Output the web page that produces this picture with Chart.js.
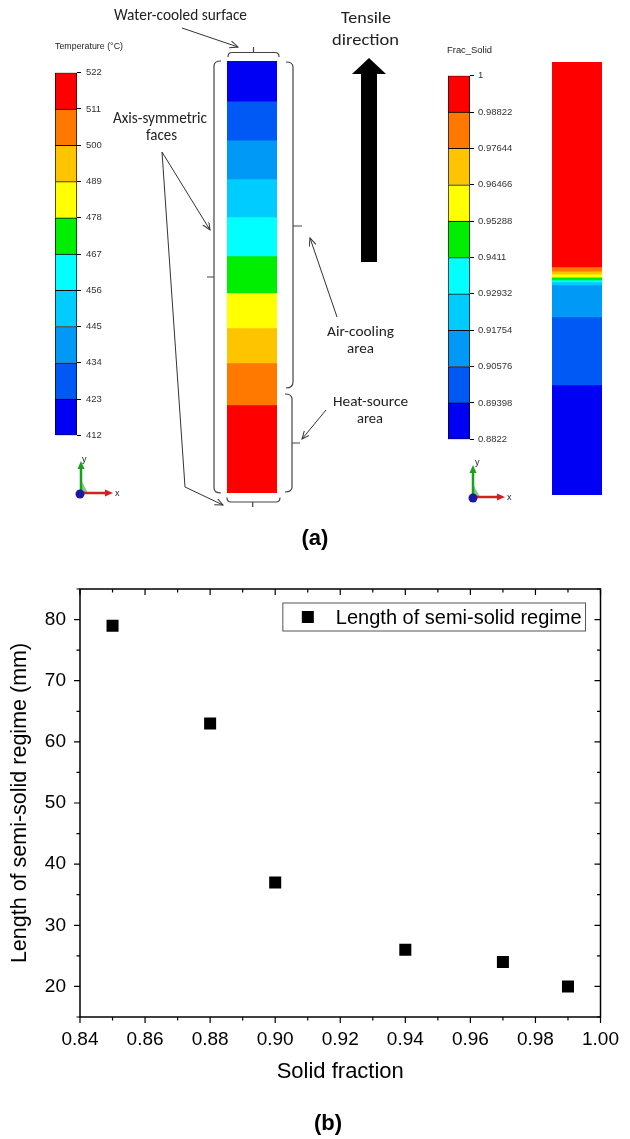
<!DOCTYPE html>
<html>
<head>
<meta charset="utf-8">
<title>Semi-solid regime</title>
<script src="https://cdn.jsdelivr.net/npm/chart.js@4.4.1/dist/chart.umd.min.js"></script>
<style>
  html, body { margin: 0; padding: 0; background: #fff; }
  #page { position: relative; width: 630px; height: 1139px; overflow: hidden; background: #fff; }
  #page canvas, #page svg { position: absolute; }
  .note { font-family: Carlito, Lato, "Open Sans", sans-serif; fill: #222; }
  .small { font-family: "Liberation Sans", Arial, sans-serif; fill: #222; }
</style>
</head>
<body>
<div id="page">
  <canvas id="tempBar" width="67" height="384" style="left:55px;top:62px"></canvas>
  <canvas id="tempSpecimen" width="50" height="432" style="left:227px;top:61px"></canvas>
  <canvas id="fracBar" width="77" height="383" style="left:448px;top:66px"></canvas>
  <canvas id="fracSpecimen" width="50" height="433" style="left:552px;top:62px"></canvas>
  <canvas id="scatter" width="630" height="540" style="left:0;top:560px"></canvas>

  <svg width="630" height="1139" viewBox="0 0 630 1139" style="left:0;top:0">
    <defs>
      <marker id="ah" markerWidth="10" markerHeight="8" refX="8" refY="3.5" orient="auto" markerUnits="userSpaceOnUse">
        <path d="M0,0 L8,3.5 L0,7" fill="none" stroke="#333" stroke-width="1"/>
      </marker>
    </defs>

    <!-- braces round the temperature specimen -->
    <g fill="none" stroke="#444" stroke-width="1.2">
      <path d="M228 57 Q228 52.5 232 52.5 H275 Q279 52.5 279 57 M253.5 52.5 V47"/>
      <path d="M227 497.5 Q227 502 231 502 H276 Q280 502 280 497.5 M252.7 502 V507"/>
      <path d="M221 61 Q214 61 214 66 V488 Q214 493 221 493 M214 277 H207"/>
      <path d="M286 62 Q293 62 293 67 V382 Q293 388 286 388 M293 226 H302"/>
      <path d="M285 394 Q292 394 292 399 V487 Q292 492 285 492 M292 443 H300"/>
    </g>

    <!-- pointer arrows -->
    <g fill="none" stroke="#333" stroke-width="1" marker-end="url(#ah)">
      <path d="M182 28 L238 47"/>
      <path d="M162 152 L210 230"/>
      <path d="M162 152 L185 487 L223 505"/>
      <path d="M337 317 L310 238"/>
      <path d="M326 410 L302 439"/>
    </g>

    <!-- tensile direction arrow -->
    <polygon points="369,58 386,74 377,74 377,262 361,262 361,74 352,74" fill="#000"/>

    <!-- coordinate triads -->
    <g>
      <polygon points="81,493 81,480 88,493" fill="#7fd07f"/>
      <line x1="81" y1="493" x2="81" y2="467" stroke="#1aa01a" stroke-width="2.5"/>
      <polygon points="77.5,469 81,461 84.5,469" fill="#1aa01a"/>
      <line x1="81" y1="493" x2="106" y2="493" stroke="#d02020" stroke-width="2.5"/>
      <polygon points="105,489.5 113,493 105,496.5" fill="#d02020"/>
      <circle cx="80" cy="494" r="4.5" fill="#1a1aa0"/>
      <text class="small" x="82" y="462" font-size="9">y</text>
      <text class="small" x="115" y="496" font-size="9">x</text>

      <polygon points="473,497 473,484 480,497" fill="#7fd07f"/>
      <line x1="473" y1="497" x2="473" y2="471" stroke="#1aa01a" stroke-width="2.5"/>
      <polygon points="469.5,473 473,465 476.5,473" fill="#1aa01a"/>
      <line x1="473" y1="497" x2="498" y2="497" stroke="#d02020" stroke-width="2.5"/>
      <polygon points="497,493.5 505,497 497,500.5" fill="#d02020"/>
      <circle cx="473" cy="498" r="4.5" fill="#1a1aa0"/>
      <text class="small" x="475" y="465" font-size="9">y</text>
      <text class="small" x="507" y="500" font-size="9">x</text>
    </g>

    <!-- labels of panel (a) -->
    <text class="small" x="55" y="49" font-size="9.5" textLength="68" lengthAdjust="spacingAndGlyphs">Temperature (°C)</text>
    <text class="small" x="447" y="53" font-size="9.5" textLength="45" lengthAdjust="spacingAndGlyphs">Frac_Solid</text>
    <text class="note" x="114" y="20" font-size="16" textLength="133" lengthAdjust="spacingAndGlyphs">Water-cooled surface</text>
    <text class="note" x="113" y="123" font-size="16" textLength="94" lengthAdjust="spacingAndGlyphs">Axis-symmetric</text>
    <text class="note" x="146" y="140" font-size="16" textLength="31" lengthAdjust="spacingAndGlyphs">faces</text>
    <text class="note" x="341" y="23" font-size="17" textLength="50" lengthAdjust="spacingAndGlyphs">Tensile</text>
    <text class="note" x="332" y="45" font-size="17" textLength="67" lengthAdjust="spacingAndGlyphs">direction</text>
    <text class="note" x="327" y="336" font-size="15" textLength="67" lengthAdjust="spacingAndGlyphs">Air-cooling</text>
    <text class="note" x="347" y="353" font-size="15" textLength="27" lengthAdjust="spacingAndGlyphs">area</text>
    <text class="note" x="333" y="406" font-size="15" textLength="75" lengthAdjust="spacingAndGlyphs">Heat-source</text>
    <text class="note" x="357" y="423" font-size="15" textLength="26" lengthAdjust="spacingAndGlyphs">area</text>

    <text x="315" y="545" text-anchor="middle" font-family="'Liberation Sans', Arial, sans-serif" font-weight="bold" font-size="22" fill="#000">(a)</text>
    <text x="328" y="1130" text-anchor="middle" font-family="'Liberation Sans', Arial, sans-serif" font-weight="bold" font-size="22" fill="#000">(b)</text>
  </svg>
</div>

<script>
const FONT = "'Liberation Sans', Arial, sans-serif";

// contour colours, lowest level first
const levelColors = ['#0000F5', '#0058F5', '#0099F5', '#00CCFF', '#00FFFF',
                     '#00EE00', '#FFFF00', '#FFC400', '#FF7800', '#FF0000'];

// colour bar ticks
const tempTicks = [412, 423, 434, 445, 456, 467, 478, 489, 500, 511, 522];
const fracTicks = [0.8822, 0.89398, 0.90576, 0.91754, 0.92932, 0.9411,
                   0.95288, 0.96466, 0.97644, 0.98822, 1];

// specimen contour bands, % of length from the water-cooled end
const tempBandBounds = [0, 9.3, 18.3, 27.3, 36.1, 45.1, 53.7, 61.8, 69.9, 79.6, 100];
const tempBandLevels = [0, 1, 2, 3, 4, 5, 6, 7, 8, 9];
const fracBandBounds = [0, 47.3, 48.3, 49.0, 49.7, 50.3, 50.8, 51.5, 58.9, 74.6, 100];
const fracBandLevels = [9, 8, 7, 6, 5, 4, 3, 2, 1, 0];

// panel (b)
const solidFraction = [0.85, 0.88, 0.90, 0.94, 0.97, 0.99];
const semiSolidLength = [79, 63, 37, 26, 24, 20];
const xTicks = [0.84, 0.86, 0.88, 0.90, 0.92, 0.94, 0.96, 0.98, 1.00];
const yTicks = [20, 30, 40, 50, 60, 70, 80];

const quiet = { legend: { display: false }, tooltip: { enabled: false } };

function colorBar(id, ticks, axisWidth, pad) {
  const datasets = levelColors.map((c, i) => ({
    data: [[ticks[i], ticks[i + 1]]],
    backgroundColor: c,
    borderColor: '#000',
    borderWidth: { top: 1, left: 1, right: 1, bottom: i === 0 ? 1 : 0 },
    borderSkipped: false,
    barPercentage: 1,
    categoryPercentage: 1,
    grouped: false
  }));
  return new Chart(document.getElementById(id), {
    type: 'bar',
    data: { labels: [''], datasets },
    options: {
      responsive: false,
      animation: false,
      layout: { padding: { top: 8, bottom: 8, left: 0, right: 0 } },
      plugins: quiet,
      scales: {
        x: { display: false },
        y: {
          position: 'right',
          min: ticks[0],
          max: ticks[ticks.length - 1],
          afterBuildTicks: s => { s.ticks = ticks.map(v => ({ value: v })); },
          afterFit: s => { s.width = axisWidth; },
          grid: { drawOnChartArea: false, drawTicks: true, tickLength: 4, color: '#000' },
          border: { display: false },
          ticks: {
            color: '#333', padding: pad, autoSkip: false,
            font: { family: FONT, size: 9.5 },
            callback: v => String(v)
          }
        }
      }
    }
  });
}

function specimen(id, bounds, levels) {
  const datasets = levels.map((lv, i) => ({
    data: [[bounds[i], bounds[i + 1]]],
    backgroundColor: levelColors[lv],
    borderWidth: 0,
    barPercentage: 1,
    categoryPercentage: 1,
    grouped: false
  }));
  return new Chart(document.getElementById(id), {
    type: 'bar',
    data: { labels: [''], datasets },
    options: {
      responsive: false,
      animation: false,
      layout: { padding: 0 },
      plugins: quiet,
      scales: {
        x: { display: false },
        y: { display: false, reverse: true, min: 0, max: 100 }
      }
    }
  });
}

colorBar('tempBar', tempTicks, 45, 5);
specimen('tempSpecimen', tempBandBounds, tempBandLevels);
colorBar('fracBar', fracTicks, 55, 4);
specimen('fracSpecimen', fracBandBounds, fracBandLevels);

// Origin-style frame: ticks on all four sides, legend box inside the plot
const frameTicks = {
  id: 'frameTicks',
  afterDraw(chart) {
    const { ctx, chartArea: a, scales: { x, y } } = chart;
    const xMinor = xTicks.slice(0, -1).map((v, i) => (v + xTicks[i + 1]) / 2);
    const yMinor = [15].concat(yTicks.map(v => v + 5));
    ctx.save();
    ctx.strokeStyle = '#000';
    ctx.lineWidth = 1.5;
    ctx.strokeRect(a.left, a.top, a.right - a.left, a.bottom - a.top);

    ctx.lineWidth = 1.2;
    ctx.beginPath();
    const xMark = (v, len) => {
      const px = x.getPixelForValue(v);
      ctx.moveTo(px, a.bottom); ctx.lineTo(px, a.bottom + len);
      ctx.moveTo(px, a.top); ctx.lineTo(px, a.top + len);
    };
    const yMark = (v, len) => {
      const py = y.getPixelForValue(v);
      ctx.moveTo(a.left, py); ctx.lineTo(a.left - len, py);
      ctx.moveTo(a.right, py); ctx.lineTo(a.right - len, py);
    };
    xTicks.forEach(v => xMark(v, 6));
    xMinor.forEach(v => xMark(v, 3.5));
    yTicks.forEach(v => yMark(v, 6));
    yMinor.forEach(v => yMark(v, 3.5));
    ctx.stroke();

    // legend
    const label = chart.data.datasets[0].label;
    ctx.font = '20px ' + FONT;
    const tw = ctx.measureText(label).width;
    const bw = 53 + tw + 4, bh = 28;
    const bx = a.right - 15 - bw, by = a.top + 14;
    ctx.fillStyle = '#fff';
    ctx.fillRect(bx, by, bw, bh);
    ctx.strokeStyle = '#555';
    ctx.lineWidth = 1;
    ctx.strokeRect(bx, by, bw, bh);
    ctx.fillStyle = '#000';
    ctx.fillRect(bx + 19, by + bh / 2 - 6, 12, 12);
    ctx.textBaseline = 'middle';
    ctx.textAlign = 'left';
    ctx.fillText(label, bx + 53, by + bh / 2 + 1);
    ctx.restore();
  }
};

new Chart(document.getElementById('scatter'), {
  type: 'scatter',
  data: {
    datasets: [{
      label: 'Length of semi-solid regime',
      data: solidFraction.map((v, i) => ({ x: v, y: semiSolidLength[i] })),
      pointStyle: 'rect',
      pointRadius: 8.5,
      backgroundColor: '#000',
      borderWidth: 0
    }]
  },
  options: {
    responsive: false,
    animation: false,
    layout: { autoPadding: false, padding: { top: 29, right: 16, left: 0, bottom: 0 } },
    plugins: quiet,
    scales: {
      x: {
        type: 'linear',
        min: 0.84,
        max: 1.0,
        afterBuildTicks: s => { s.ticks = xTicks.map(v => ({ value: v })); },
        afterFit: s => { s.height = 83; },
        grid: { display: false, drawTicks: false },
        border: { display: false },
        ticks: {
          color: '#000', padding: 11, autoSkip: false, maxRotation: 0,
          font: { family: FONT, size: 19 },
          callback: v => v.toFixed(2)
        },
        title: {
          display: true, text: 'Solid fraction', color: '#000',
          font: { family: FONT, size: 22 },
          padding: { top: 0, bottom: 15 }
        }
      },
      y: {
        min: 15,
        max: 85,
        afterBuildTicks: s => { s.ticks = yTicks.map(v => ({ value: v })); },
        afterFit: s => { s.width = 80; },
        grid: { display: false, drawTicks: false },
        border: { display: false },
        ticks: {
          color: '#000', padding: 14, autoSkip: false,
          font: { family: FONT, size: 19 }
        },
        title: {
          display: true, text: 'Length of semi-solid regime (mm)', color: '#000',
          font: { family: FONT, size: 21.5 },
          padding: { top: 7, bottom: 0 }
        }
      }
    }
  },
  plugins: [frameTicks]
});
</script>
</body>
</html>
